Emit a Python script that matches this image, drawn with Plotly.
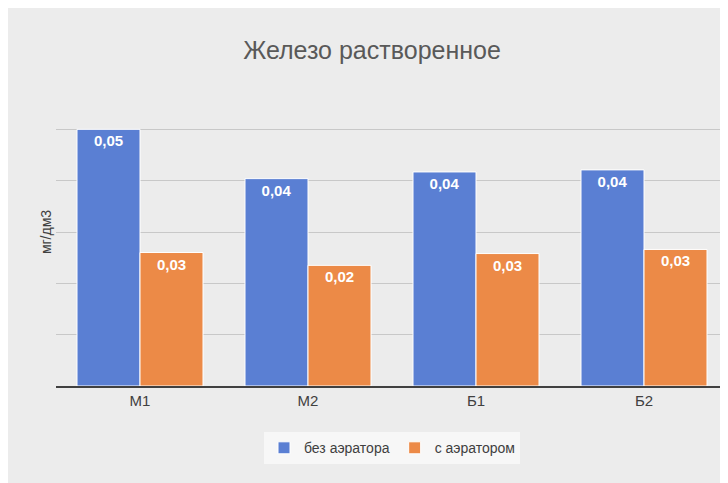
import plotly.graph_objects as go

categories = ["М1", "М2", "Б1", "Б2"]
no_aerator = [0.050, 0.0404, 0.0417, 0.0421]
with_aerator = [0.026, 0.0235, 0.0258, 0.0266]
grid_vals = [0.01, 0.02, 0.03, 0.04, 0.05]

fig = go.Figure()
fig.add_trace(go.Bar(
    x=categories, y=no_aerator, name="без аэратора",
    marker=dict(color="#5a7fd3", line=dict(color="white", width=1)),
    texttemplate="<b>%{y:.2f}</b>", textposition="inside", insidetextanchor="end",
    textfont=dict(color="white", size=15, family="Liberation Sans"),
))
fig.add_trace(go.Bar(
    x=categories, y=with_aerator, name="с аэратором",
    marker=dict(color="#ec8a47", line=dict(color="white", width=1)),
    texttemplate="<b>%{y:.2f}</b>", textposition="inside", insidetextanchor="end",
    textfont=dict(color="white", size=15, family="Liberation Sans"),
))

fig.update_layout(
    width=728, height=483,
    margin=dict(l=48, r=8, t=70, b=105),
    paper_bgcolor="#ececec", plot_bgcolor="rgba(0,0,0,0)",
    separators=",.",
    barmode="group", bargap=0.25, bargroupgap=0.0,
    font=dict(family="Liberation Sans", color="#595959"),
    title=dict(text="Железо растворенное", x=0.5, y=0.93, xanchor="center",
               font=dict(size=25, color="#595959")),
    legend=dict(orientation="h", x=0.5, y=-0.15, xanchor="center", yanchor="top",
                bgcolor="#f7f7f7", font=dict(size=14, color="#404040")),
    uniformtext=dict(mode="show", minsize=10),
)
fig.update_xaxes(showline=True, linecolor="#404040", linewidth=2,
                 tickfont=dict(size=15, color="#404040"))
fig.update_yaxes(range=[0, 0.06], tickvals=grid_vals, showticklabels=False,
                 gridcolor="#c8c8c8", zeroline=False,
                 title=dict(text="мг/дм3", font=dict(size=14, color="#404040"), standoff=0))

fig.write_html("out.html")
